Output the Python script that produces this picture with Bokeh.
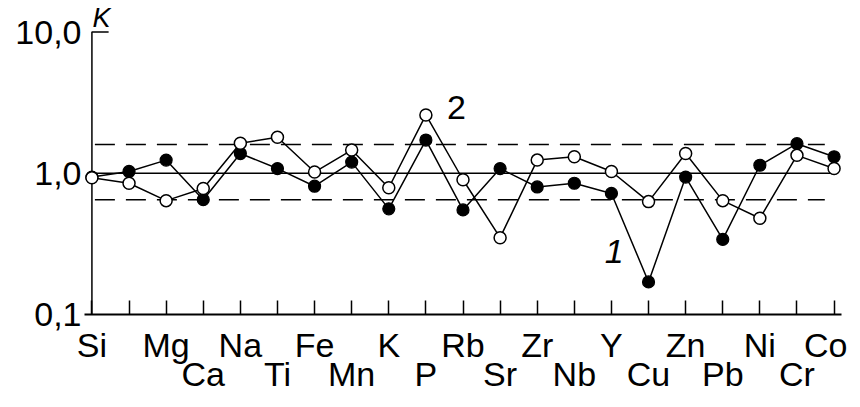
from bokeh.plotting import figure
from bokeh.models import Range1d, FixedTicker, LinearAxis, Label
from bokeh.embed import file_html
from bokeh.resources import INLINE

# categories (position 1 is unlabeled in the original)
elements = ["Si", "", "Mg", "Ca", "Na", "Ti", "Fe", "Mn", "K", "P", "Rb",
            "Sr", "Zr", "Nb", "Y", "Cu", "Zn", "Pb", "Ni", "Cr", "Co"]
# series 1 (filled circles)
series1 = [0.94, 1.03, 1.24, 0.65, 1.38, 1.08, 0.81, 1.20, 0.56, 1.72, 0.55,
           1.08, 0.80, 0.85, 0.72, 0.17, 0.94, 0.34, 1.14, 1.62, 1.31]
# series 2 (open circles)
series2 = [0.93, 0.85, 0.64, 0.78, 1.63, 1.80, 1.02, 1.46, 0.79, 2.59, 0.90,
           0.35, 1.24, 1.31, 1.03, 0.63, 1.38, 0.64, 0.48, 1.34, 1.08]
# reference levels
ref_solid = 1.0
ref_dashed = [1.6, 0.65]
# y tick labels
y_ticks = [0.1, 1, 10]
y_tick_labels = ["0,1", "1,0", "10,0"]

xs = list(range(len(elements)))
FONT = "Liberation Sans"

p = figure(y_axis_type="log",
           x_range=Range1d(-0.2, 20.2), y_range=Range1d(0.1, 10.6),
           frame_width=757, frame_height=286,
           min_border_left=84, min_border_right=6,
           min_border_top=28, min_border_bottom=82,
           output_backend="svg", toolbar_location=None)
p.outline_line_color = None
p.grid.visible = False
p.background_fill_color = "white"

# "K" label above the y axis
p.title.text = "K"
p.title.text_font = FONT
p.title.text_font_style = "italic"
p.title.text_font_size = "27px"
p.title.text_color = "black"
p.title.align = "left"
p.title.offset = 8
p.title.standoff = -8

# y axis (labels only)
ya = p.yaxis[0]
ya.ticker = FixedTicker(ticks=y_ticks)
ya.major_label_overrides = {t: l for t, l in zip(y_ticks, y_tick_labels)}
ya.axis_line_color = None
ya.major_tick_line_color = None
ya.minor_tick_line_color = None
ya.major_label_standoff = -3
ya.major_label_text_font = FONT
ya.major_label_text_font_size = "34px"
ya.major_label_text_color = "black"

# x axis top row
top_labels = {i: (e if i % 2 == 0 else "") for i, e in enumerate(elements)}
xa = p.xaxis[0]
xa.ticker = FixedTicker(ticks=xs)
xa.major_label_overrides = top_labels
xa.axis_line_color = "black"
xa.axis_line_width = 2
xa.major_tick_in = 14
xa.major_tick_out = 0
xa.major_tick_line_width = 1.5
xa.major_tick_line_color = "black"
xa.minor_tick_line_color = None
xa.major_label_standoff = 11
xa.major_label_text_font = FONT
xa.major_label_text_font_size = "34px"
xa.major_label_text_color = "black"

# x axis bottom row
bottom_pos = [i for i, e in enumerate(elements) if i % 2 == 1 and e]
xb = LinearAxis(ticker=FixedTicker(ticks=bottom_pos),
                major_label_overrides={i: elements[i] for i in bottom_pos},
                axis_line_color=None, major_tick_line_color=None,
                minor_tick_line_color=None, major_label_standoff=-18,
                major_label_text_font=FONT, major_label_text_font_size="34px",
                major_label_text_color="black")
p.add_layout(xb, "below")

# y axis line with top stroke
y_lo, y_hi = y_ticks[0], y_ticks[-1]
p.line(x=[xs[0], xs[0], xs[0] + 0.45], y=[y_lo, y_hi, y_hi],
       line_color="black", line_width=1.5)

# reference lines
p.line(x=[xs[0], xs[-1] + 0.1], y=[ref_solid, ref_solid],
       line_color="black", line_width=1.5)
for lv in ref_dashed:
    p.line(x=[xs[0] + 0.08, xs[-1] - 0.25], y=[lv, lv], line_color="black",
           line_width=1.5, line_dash="20 11")

# series
p.line(xs, series1, line_color="black", line_width=1.5)
p.line(xs, series2, line_color="black", line_width=1.5)
p.scatter(xs, series1, marker="circle", size=12, fill_color="black",
          line_color="black", line_width=1.2)
p.scatter(xs, series2, marker="circle", size=12, fill_color="white",
          line_color="black", line_width=1.5)

# annotations
ip = elements.index("P")
p.add_layout(Label(x=xs[ip], y=series2[ip], text="2", x_offset=21,
                   y_offset=-4, text_font=FONT, text_font_size="34px",
                   text_baseline="bottom", text_color="black"))
ic = elements.index("Cu")
p.add_layout(Label(x=xs[ic], y=series1[ic], text="1", x_offset=-25,
                   y_offset=19, text_align="right", text_font=FONT,
                   text_font_style="italic", text_font_size="34px",
                   text_baseline="bottom", text_color="black"))

open("out.html", "w").write(file_html(p, INLINE))
